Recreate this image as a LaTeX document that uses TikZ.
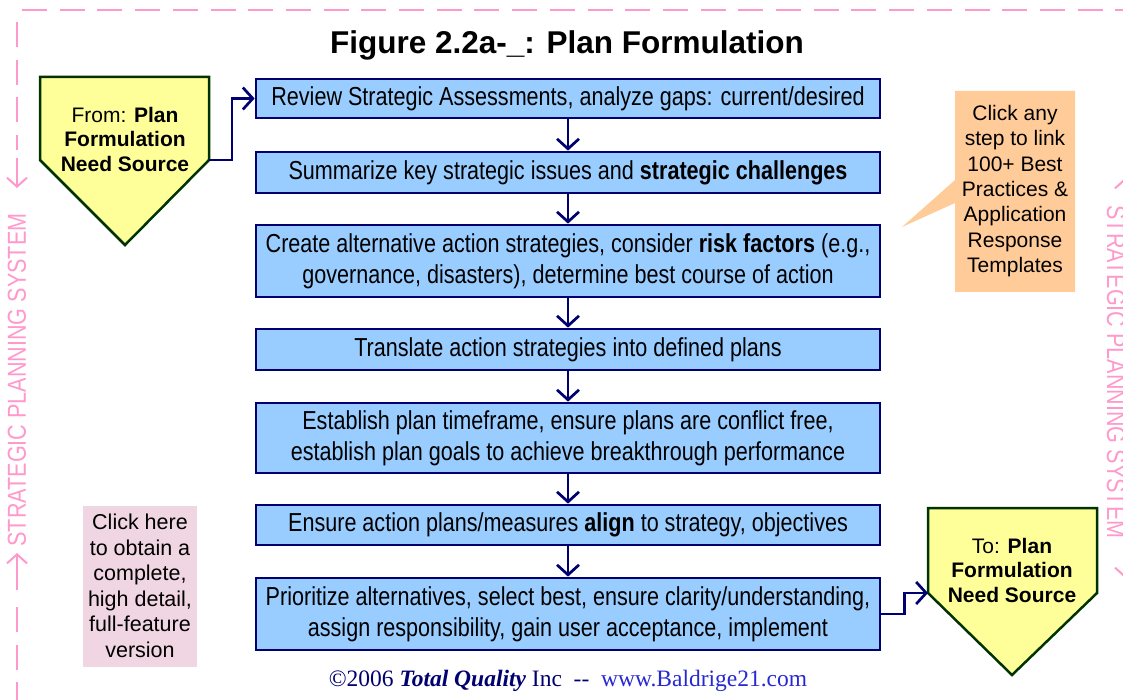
\documentclass[tikz,border=0pt]{standalone}
\usepackage{fontspec}
\setmainfont{Liberation Sans}
\newfontfamily\narrowfont{Liberation Sans}[FakeStretch=0.83]
\newfontfamily\timesfont{Liberation Serif}
\usepackage{xcolor}
\usetikzlibrary{arrows.meta, positioning}

\definecolor{navy}{RGB}{0,0,112}
\definecolor{stepblue}{RGB}{153,204,255}
\definecolor{padyellow}{RGB}{255,255,153}
\definecolor{padgreen}{RGB}{0,51,0}
\definecolor{noteorange}{RGB}{255,204,153}
\definecolor{notepink}{RGB}{240,214,226}
\definecolor{framepink}{RGB}{255,153,204}
\definecolor{linkblue}{RGB}{40,40,210}

\tikzset{
  stepbox/.style={draw=navy, fill=stepblue, line width=2.7pt, minimum width=624pt,
    align=center, inner sep=0pt, font=\narrowfont\fontsize{26}{31}\selectfont},
  flow/.style={navy, line width=2.7pt, -{Straight Barb[length=10pt,width=22pt]}},
  pad/.style={fill=padyellow, draw=padgreen, line width=2.5pt},
  padtext/.style={align=center, font=\fontsize{21}{24.5}\selectfont},
  notetext/.style={align=center, font=\fontsize{21}{25.3}\selectfont},
  borderline/.style={framepink, line width=2pt, dash pattern=on 25pt off 12.7pt},
  sidearrow/.style={framepink, line width=2pt, -{Straight Barb[length=9pt,width=20pt]}},
  sidetext/.style={text=framepink, font=\narrowfont\fontsize{26}{30}\selectfont},
}

\begin{document}
\begin{tikzpicture}[x=1pt, y=-1pt]
        \useasboundingbox (0,0) rectangle (1123,700);

        % Dashed frame and side labels
        \draw[borderline] (22,10) -- (1123,10);
        \draw[borderline] (17,22) -- (17,150);
        \draw[sidearrow] (17,158) -- (17,188);
        \draw[sidearrow] (17,590) -- (17,553);
        \draw[borderline] (17,607) -- (17,700);
        \node[sidetext, rotate=90] (lefttag) at (17,380) {STRATEGIC PLANNING SYSTEM};
        \draw[sidearrow] (1125,215) -- (1125,178);
        \draw[sidearrow] (1125,540) -- (1125,578);
        \node[sidetext, rotate=-90, anchor=base] (righttag) at (1107,372) {STRATEGIC PLANNING SYSTEM};

        % Title
        \node[font=\bfseries\fontsize{31.5}{36}\selectfont] (title) at (567,45) {Figure 2.2a-\_: Plan Formulation};

        % Steps
        \node[stepbox, minimum height=39pt] (s1) at (568,98.5) {Review Strategic Assessments, analyze gaps: current/desired};
        \node[stepbox, minimum height=41pt] (s2) at (568,172.5) {Summarize key strategic issues and \textbf{strategic challenges}};
        \node[stepbox, minimum height=72pt] (s3) at (568,261) {Create alternative action strategies, consider \textbf{risk factors} (e.g.,\\governance, disasters), determine best course of action};
        \node[stepbox, minimum height=41pt] (s4) at (568,349.5) {Translate action strategies into defined plans};
        \node[stepbox, minimum height=70pt] (s5) at (568,438) {Establish plan timeframe, ensure plans are conflict free,\\establish plan goals to achieve breakthrough performance};
        \node[stepbox, minimum height=40pt] (s6) at (568,525) {Ensure action plans/measures \textbf{align} to strategy, objectives};
        \node[stepbox, minimum height=72pt] (s7) at (568,614) {Prioritize alternatives, select best, ensure clarity/understanding,\\assign responsibility, gain user acceptance, implement};

        \foreach \a/\b in {s1/s2, s2/s3, s3/s4, s4/s5, s5/s6, s6/s7} {
            \draw[flow] (\a) -- (\b);
        }

        % From pad
        \draw[pad] (40,77) -- (209,77) -- (209,160) -- (125,245) -- (40,160) -- cycle;
        \coordinate (fromout) at (209,160);
        \node[padtext] (fromtext) at (125,139) {From: \textbf{Plan}\\\textbf{Formulation}\\\textbf{Need Source}};
        \draw[flow] (fromout) -- ++(23,0) |- (s1.west);

        % To pad
        \draw[pad] (928,508) -- (1097,508) -- (1097,593) -- (1012,675) -- (928,593) -- cycle;
        \coordinate (toin) at (928,593);
        \node[padtext] (totext) at (1012,570) {To: \textbf{Plan}\\\textbf{Formulation}\\\textbf{Need Source}};
        \draw[flow] (s7.east) -- ++(23,0) |- (toin);

        % Callout
        \fill[noteorange] (955,91) -- (1075,91) -- (1075,292) -- (955,292) -- (955,203) -- (902,227) -- (955,180) -- cycle;
        \node[notetext] (callout) at (1015,191) {Click any\\step to link\\100+ Best\\Practices \&\\Application\\Response\\Templates};

        % Full version note
        \fill[notepink] (83,506) rectangle (197,667);
        \node[notetext, font=\fontsize{21.5}{25.5}\selectfont] (fullnote) at (140,586) {Click here\\to obtain a\\complete,\\high detail,\\full-feature\\version};

        % Footer
        \node[font=\timesfont\fontsize{23.5}{28}\selectfont, text=navy] (credit) at (568,681)
            {©2006 \textbf{\textit{Total Quality}} Inc\ \ -{}-\ \ \textcolor{linkblue}{www.Baldrige21.com}};
\end{tikzpicture}
\end{document}
